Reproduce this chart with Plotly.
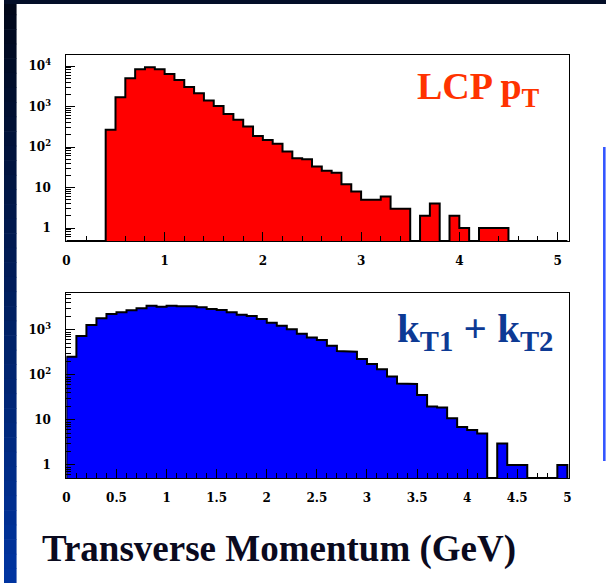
import plotly.graph_objects as go

# ---------------- data ----------------
bin_width = 0.1
# LCP pT histogram, bins starting at 0.0 (width 0.1)
lcp_counts = [0, 0, 0, 0, 265, 1700, 5000, 8300, 9300, 8300,
              6350, 4500, 3050, 2130, 1400, 1030, 656, 470, 320, 188,
              150, 120, 77, 53, 50, 33, 26, 23, 12, 8,
              5, 5, 6, 3, 3, 0, 2, 4, 0, 2,
              1, 0, 1, 1, 1, 0, 0, 0, 0, 0, 0]
# kT1 + kT2 histogram, bins starting at 0.0 (width 0.1)
kt_counts = [255, 736, 1290, 1815, 2270, 2470, 2735, 3030, 3470, 3300,
             3470, 3350, 3350, 3190, 2930, 2780, 2470, 2190, 2050, 1755,
             1456, 1250, 1035, 820, 680, 600, 449, 341, 330, 227,
             176, 134, 92, 65, 63, 36, 20, 19, 11, 7,
             6, 5, 0, 3, 1, 1, 0, 0, 0, 1]

ytick_vals = [1, 10, 100, 1000, 10000]
ytick_text = ["1", "10", "10<sup>2</sup>", "10<sup>3</sup>", "10<sup>4</sup>"]

W, H = 608, 583
def px(x):
    return x / W
def py(y):
    return 1 - y / H

top_yrange = [-0.321, 4.272]
bot_yrange = [-0.289, 3.822]
top_xrange = [0, 5.12]
bot_xrange = [0, 5.02]


def step_polygon(counts, floor):
    xs, ys = [0.0], [floor]
    for i, c in enumerate(counts):
        v = c if c > 0 else floor
        xs += [i * bin_width, (i + 1) * bin_width]
        ys += [v, v]
    xs.append(len(counts) * bin_width)
    ys.append(floor)
    return xs, ys


fig = go.Figure()

fx, fy = step_polygon(lcp_counts, 10 ** top_yrange[0])
fig.add_trace(go.Scatter(x=fx, y=fy, mode="lines", fill="toself",
                         fillcolor="#ff0000", line=dict(color="black", width=2),
                         xaxis="x", yaxis="y", hoverinfo="skip"))
bx, by = step_polygon(kt_counts, 10 ** bot_yrange[0])
fig.add_trace(go.Scatter(x=bx, y=by, mode="lines", fill="toself",
                         fillcolor="#0000ff", line=dict(color="black", width=2),
                         xaxis="x2", yaxis="y2", hoverinfo="skip"))

tickfont_x = dict(family="DejaVu Serif", size=12, color="black", weight="bold")
tickfont_y = dict(family="DejaVu Serif", size=12, color="black", weight="bold")
minor_log = [d * 10 ** e for e in range(-1, 5) for d in range(2, 10)]

common_x = dict(showline=True, mirror=True, linecolor="black", linewidth=1,
                showgrid=False, zeroline=False, ticks="inside", ticklen=9,
                tickcolor="black", tickwidth=1, tickfont=tickfont_x,
                ticklabelstandoff=9)
common_y = dict(type="log", showline=True, mirror=True, linecolor="black",
                linewidth=1, showgrid=False, zeroline=False, ticks="inside",
                ticklen=9, tickcolor="black", tickwidth=1, tickfont=tickfont_y,
                tickmode="array", tickvals=ytick_vals, ticktext=ytick_text,
                minor=dict(tickmode="array", tickvals=minor_log, ticks="inside",
                           ticklen=5, tickcolor="black", showgrid=False),
                ticklabelstandoff=12)

fig.update_layout(
    width=W, height=H, margin=dict(l=0, r=0, t=0, b=0),
    paper_bgcolor="white", plot_bgcolor="white", showlegend=False,
    xaxis=dict(domain=[px(63), px(571)], range=top_xrange, anchor="y",
               tick0=0, dtick=1,
               minor=dict(dtick=0.2, ticks="inside", ticklen=5, tickcolor="black"),
               **common_x),
    yaxis=dict(domain=[py(241), py(55)], range=top_yrange, anchor="x", **common_y),
    xaxis2=dict(domain=[px(63), px(571)], range=bot_xrange, anchor="y2",
                tick0=0, dtick=0.5,
                minor=dict(dtick=0.1, ticks="inside", ticklen=5, tickcolor="black"),
                **common_x),
    yaxis2=dict(domain=[py(478), py(293)], range=bot_yrange, anchor="x2", **common_y),
)

# slide background decorations
shapes = []
n = 40
def lerp(c1, c2, t):
    return "rgb(%d,%d,%d)" % tuple(round(a + (b - a) * t) for a, b in zip(c1, c2))
top_c, bot_c = (1, 8, 26), (0, 52, 160)
for i in range(n):
    t = i / (n - 1)
    shapes.append(dict(type="rect", xref="paper", yref="paper",
                       x0=0, x1=px(12.7), y0=1 - (i + 1) / n - 0.001, y1=1 - i / n,
                       fillcolor=lerp(top_c, bot_c, t), line=dict(width=0), layer="above"))
shapes.append(dict(type="rect", xref="paper", yref="paper", x0=0, x1=1,
                   y0=py(4), y1=1, fillcolor="rgb(3,14,40)", line=dict(width=0), layer="above"))
shapes.append(dict(type="rect", xref="paper", yref="paper", x0=px(605), x1=px(607.6),
                   y0=py(461), y1=py(147), fillcolor="#3355ff", line=dict(width=0), layer="above"))
fig.update_layout(shapes=shapes)

fig.add_annotation(xref="paper", yref="paper", x=px(543), y=py(89),
                   xanchor="right", yanchor="middle", showarrow=False,
                   text="LCP p<sub>T</sub>",
                   font=dict(family="Liberation Serif", size=38, color="#ff3300", weight="bold"))
fig.add_annotation(xref="paper", yref="paper", x=px(556), y=py(331),
                   xanchor="right", yanchor="middle", showarrow=False,
                   text="k<sub>T1</sub> + k<sub>T2</sub>",
                   font=dict(family="Liberation Serif", size=41, color="#0d3a94", weight="bold"))
fig.add_annotation(xref="paper", yref="paper", x=px(277.5), y=py(549),
                   xanchor="center", yanchor="middle", showarrow=False,
                   text="Transverse Momentum (GeV)",
                   font=dict(family="Liberation Serif", size=37, color="#0a0a1e", weight="bold"))

fig.write_html("out.html")
